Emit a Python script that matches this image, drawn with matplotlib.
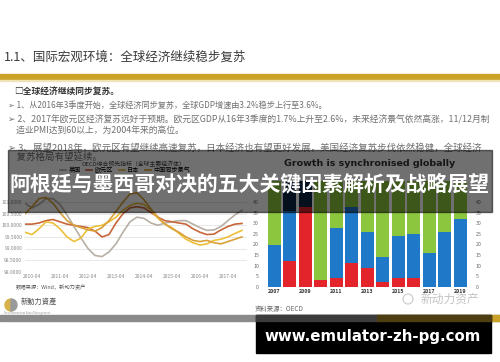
import matplotlib.pyplot as plt
from matplotlib.patches import Rectangle, Circle, Wedge

plt.rcParams['font.family'] = ['Noto Sans CJK SC', 'DejaVu Sans']

# 折线图数据 (OECD 领先指标, 季度)
quarters = [2010.0, 2010.25, 2010.5, 2010.75, 2011.0, 2011.25, 2011.5, 2011.75,
            2012.0, 2012.25, 2012.5, 2012.75, 2013.0, 2013.25, 2013.5, 2013.75,
            2014.0, 2014.25, 2014.5, 2014.75, 2015.0, 2015.25, 2015.5, 2015.75,
            2016.0, 2016.25, 2016.5, 2016.75, 2017.0, 2017.25, 2017.5, 2017.75]
us = [100.95, 100.75, 100.9, 101.15, 101.15, 100.9, 100.45, 99.95,
      99.45, 99.0, 98.7, 98.65, 98.85, 99.2, 99.7, 100.15,
      100.35, 100.3, 100.1, 100.0, 100.1, 100.15, 100.2, 100.2,
      100.05, 99.9, 99.78, 99.8, 99.95, 100.2, 100.45, 100.65]
euro = [100.05, 100.05, 100.1, 100.2, 100.25, 100.15, 100.05, 100.0,
        99.95, 99.9, 99.75, 99.5, 99.6, 100.1, 100.5, 100.75,
        100.8, 100.75, 100.55, 100.35, 100.2, 100.15, 100.1, 100.05,
        99.85, 99.7, 99.6, 99.62, 99.8, 99.95, 100.05, 100.08]
japan = [99.7, 99.6, 99.85, 100.15, 100.1, 99.85, 99.5, 99.3,
         99.45, 99.85, 99.95, 100.0, 100.15, 100.35, 100.65, 100.85,
         100.95, 100.9, 100.65, 100.3, 100.05, 99.9, 99.65, 99.4,
         99.25, 99.15, 99.2, 99.35, 99.4, 99.5, 99.65, 99.78]
china = [100.5, 100.8, 101.15, 101.2, 100.95, 100.55, 100.2, 100.0,
         99.9, 99.8, 99.75, 99.9, 100.2, 100.6, 101.0, 101.35,
         101.4, 101.1, 100.7, 100.35, 100.05, 99.85, 99.7, 99.5,
         99.35, 99.3, 99.35, 99.25, 99.2, 99.3, 99.4, 99.5]
line_names = ['美国', '欧元区', '日本', '中国同步景气']
x_ticks = [2010.25, 2011.25, 2012.25, 2013.25, 2014.25, 2015.25, 2016.25, 2017.25]
x_labels = ['2010-04', '2011-04', '2012-04', '2013-04', '2014-04', '2015-04', '2016-04', '2017-04']
y_ticks = [98.0, 98.5, 99.0, 99.5, 100.0, 100.5, 101.0]

# 柱状图数据 (OECD 国家数量)
years = ['2007', '2008', '2009', '2010', '2011', '2012', '2013',
         '2014', '2015', '2016', '2017', '2018', '2019']
red = [0, 12, 38, 3, 4, 11, 9, 2, 4, 4, 0, 0, 0]
blue = [20, 24, 0, 0, 24, 27, 17, 12, 20, 21, 16, 26, 32]
green = [30, 0, 0, 47, 22, 12, 24, 36, 26, 25, 34, 24, 18]
navy = [0, 14, 12, 0, 0, 0, 0, 0, 0, 0, 0, 0, 0]


def box(x0, y0, x1, y1):
    # 像素坐标 -> figure 坐标
    return [x0 / 500, 1 - y1 / 362, (x1 - x0) / 500, (y1 - y0) / 362]


fig = plt.figure(figsize=(5, 3.62), dpi=100)
bg = fig.add_axes([0, 0, 1, 1])
bg.set_xlim(0, 500)
bg.set_ylim(362, 0)
bg.axis('off')

# 标题与金色横条
bg.text(4, 57, '1.1、国际宏观环境：全球经济继续稳步复苏', fontsize=9, color='#3a3a3a', va='center')
bg.add_patch(Rectangle((0, 74), 500, 5.5, color='#c9a227'))
bg.add_patch(Rectangle((0, 79.5), 500, 1.5, color='#efe3b8'))

# 要点文字
bg.text(14, 92, '□全球经济继续同步复苏。', fontsize=6.3, color='#333333', va='center', weight='bold')
bullets = [
    (105, 5.9, '➢ 1、从2016年3季度开始，全球经济同步复苏，全球GDP增速由3.2%稳步上行至3.6%。'),
    (120, 6.35, '➢ 2、2017年欧元区经济复苏远好于预期。欧元区GDP从16年3季度的1.7%上升至2.6%，未来经济景气依然高涨，11/12月制'),
    (130, 6.35, '    造业PMI达到60以上，为2004年来的高位。'),
    (148, 6.85, '➢ 3、展望2018年，欧元区有望继续高速复苏，日本经济也有望更好发展，美国经济复苏步伐依然稳健，全球经济'),
    (157, 6.85, '    复苏格局有望延续。'),
]
for yy, fs, s in bullets:
    bg.text(8, yy, s, fontsize=fs, color='#707070', va='center')

# 左图: 折线
ax1 = fig.add_axes(box(25, 190.5, 247, 271.7))
colors = ['#b8afa5', '#c8663a', '#edc03a', '#d9a13a']
for vals, c, name in zip([us, euro, japan, china], colors, line_names):
    ax1.plot(quarters, vals, color=c, lw=1.2, label=name)
ax1.set_xlim(2010.0, 2017.93)
ax1.set_ylim(98.0, 101.5)
ax1.set_yticks(y_ticks)
ax1.set_yticklabels(['%.4f' % v for v in y_ticks])
ax1.set_xticks(x_ticks)
ax1.set_xticklabels(x_labels)
ax1.tick_params(length=0, labelsize=3.6, labelcolor='#888888', pad=2)
ax1.grid(axis='y', color='#e4e4e4', lw=0.6)
for sp in ax1.spines.values():
    sp.set_visible(False)
ax1.legend(ncol=4, fontsize=4.4, frameon=False, loc='center', handlelength=1.0,
           handletextpad=0.4, columnspacing=0.9, borderpad=0.1,
           bbox_to_anchor=(0.25, 0.53), bbox_transform=fig.transFigure)
bg.text(82, 164, 'OECD综合领先指标（全球主要经济体）', fontsize=4.2, color='#444444', va='center')
bg.text(16, 287, '数据来源：Wind，新动力资产', fontsize=3.8, color='#555555', va='center')

# 右图: 堆积柱
ax2 = fig.add_axes(box(266, 181.2, 469, 286.7))
idx = list(range(len(years)))
b1 = red
b2 = [r + b for r, b in zip(red, blue)]
b3 = [s + g for s, g in zip(b2, green)]
ax2.bar(idx, red, width=0.84, color='#e3242b')
ax2.bar(idx, blue, bottom=b1, width=0.84, color='#1f78c8')
ax2.bar(idx, green, bottom=b2, width=0.84, color='#8cc63f')
ax2.bar(idx, navy, bottom=b3, width=0.84, color='#0b2545')
ax2.set_xlim(-0.55, 12.58)
ax2.set_ylim(0, 50)
ax2.set_yticks(range(0, 45, 5))
ax2.set_xticks(idx[::2])
ax2.set_xticklabels(years[::2])
ax2.tick_params(axis='y', length=0, labelsize=3.8, labelcolor='#666666', labelright=True, pad=5)
ax2.tick_params(axis='x', length=0, labelsize=3.8, labelcolor='#333333', pad=1.5)
for lab in ax2.get_xticklabels():
    lab.set_fontweight('bold')
for sp in ax2.spines.values():
    sp.set_visible(False)
bg.text(370, 163, 'Growth is synchronised globally', fontsize=6.8, weight='bold',
        color='#333333', ha='center', va='center', family='DejaVu Sans')
bg.text(255, 309, '资料来源：OECD', fontsize=4.6, color='#666666', va='center')

# 水印与标识
bg.add_patch(Circle((408, 299), 5, fill=False, ec='#c8c8c8', lw=0.8))
bg.text(421, 299, '新动力资产', fontsize=8.5, color='#c4c4c4', va='center')
bg.add_patch(Wedge((11, 305), 6, 90, 270, color='#d8b24a'))
bg.add_patch(Wedge((11, 305), 6, -90, 90, color='#9a9a9a'))
bg.text(21, 302, '新動力資產', fontsize=5.2, color='#555555', va='center')
bg.text(4, 313, 'New Momentum Asset Management', fontsize=2, color='#999999', va='center')

# 底部横条
bg.add_patch(Rectangle((0, 315), 500, 6, color='#8a8a8a'))
bg.add_patch(Rectangle((377, 315), 123, 6, color='#c9a227'))

# 覆盖层: 标题横幅与网址
ov = fig.add_axes([0, 0, 1, 1], zorder=20)
ov.set_xlim(0, 500)
ov.set_ylim(362, 0)
ov.axis('off')
ov.add_patch(Rectangle((8, 150), 484, 62, color='black', alpha=0.56))
ov.text(250, 184, '阿根廷与墨西哥对决的五大关键因素解析及战略展望', fontsize=15,
        weight='bold', color='white', ha='center', va='center')
ov.add_patch(Rectangle((256, 315), 235, 38, color='black'))
ov.add_patch(Rectangle((256, 315), 121, 6, color='#3c3c3c'))
ov.add_patch(Rectangle((377, 315), 114, 6, color='#4d3f12'))
ov.text(373, 337, 'www.emulator-zh-pg.com', fontsize=10.8, weight='bold',
        color='white', ha='center', va='center', family='DejaVu Sans')

fig.savefig('out.png', dpi=100, facecolor='white')
